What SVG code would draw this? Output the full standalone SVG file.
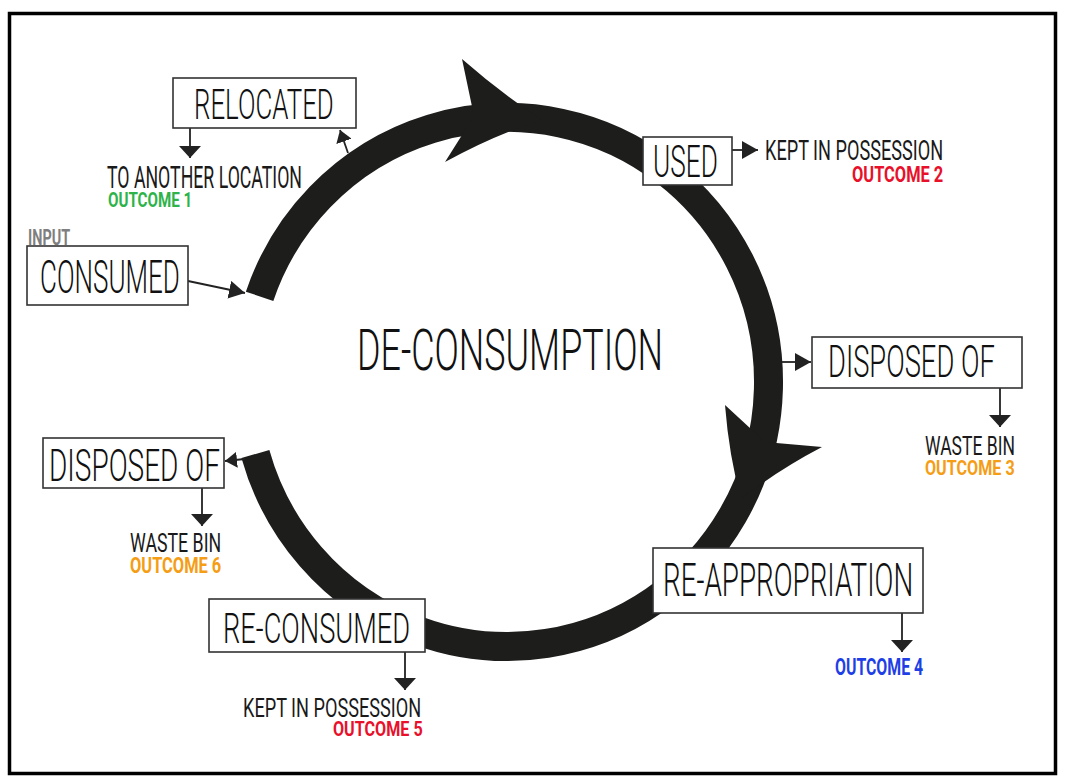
<svg xmlns="http://www.w3.org/2000/svg" width="1065" height="783" viewBox="0 0 1065 783">
<defs>
<style>
.box{fill:#fff;stroke:#333;stroke-width:1.6}
.lbl{font-family:Roboto,"Liberation Sans",sans-serif;font-weight:300;fill:#111}
.sub{font-family:Roboto,"Liberation Sans",sans-serif;font-weight:400;fill:#1a1a1a}
.out{font-family:Roboto,"Liberation Sans",sans-serif;font-weight:700}
.con{stroke:#222;stroke-width:1.8;fill:none}
.band{fill:none;stroke:#1d1d1b;stroke-width:29}
.head{fill:#1d1d1b}
</style>
<marker id="down" viewBox="0 0 12 22" refX="12" refY="11" markerWidth="12" markerHeight="22" markerUnits="userSpaceOnUse" orient="auto"><path d="M0,0 L12,11 L0,22 z" fill="#222"/></marker>
<marker id="side" viewBox="0 0 16 18" refX="16" refY="9" markerWidth="16" markerHeight="18" markerUnits="userSpaceOnUse" orient="auto"><path d="M0,0 L16,9 L0,18 z" fill="#222"/></marker>
<marker id="small" viewBox="0 0 12 16" refX="12" refY="8" markerWidth="12" markerHeight="16" markerUnits="userSpaceOnUse" orient="auto"><path d="M0,0 L12,8 L0,16 z" fill="#222"/></marker>
</defs>
<rect x="0" y="0" width="1065" height="783" fill="#fff"/>
<rect x="9.5" y="13.5" width="1046" height="760" fill="none" stroke="#000" stroke-width="3.5"/>

<g id="cycle">
<path class="band" d="M259.6,296.3 A261.5,264.5 0 1 1 255.4,454"/>
<path class="head" d="M462,59 Q502,94 542,120 Q496,134 445,162 L474,116 Z"/>
<path class="head" d="M725,405 Q729,456 741,499 Q778,470 822,447 L765,442 Z"/>
</g>

<g id="connectors">
<path class="con" d="M190,128 L190,158" marker-end="url(#down)"/>
<path class="con" d="M348,153 L340,130" marker-end="url(#small)"/>
<path class="con" d="M188,281 L245,293" marker-end="url(#side)"/>
<path class="con" d="M732,150 L758,150" marker-end="url(#side)"/>
<path class="con" d="M782,362 L811,362" marker-end="url(#side)"/>
<path class="con" d="M1000,388 L1000,427" marker-end="url(#down)"/>
<path class="con" d="M902,613 L902,652" marker-end="url(#down)"/>
<path class="con" d="M405,652 L405,690" marker-end="url(#down)"/>
<path class="con" d="M245,459 L225,461" marker-end="url(#small)"/>
<path class="con" d="M202,488 L202,526" marker-end="url(#down)"/>
</g>

<g id="center">
<text class="lbl" transform="translate(357,370) scale(0.6,1)" font-size="58" textLength="510" lengthAdjust="spacingAndGlyphs">DE-CONSUMPTION</text>
</g>

<g id="relocated">
<rect class="box" x="173" y="78" width="183" height="50"/>
<text class="lbl" transform="translate(194,119) scale(0.6,1)" font-size="42" textLength="233" lengthAdjust="spacingAndGlyphs">RELOCATED</text>
</g>
<g id="outcome1">
<text class="sub" transform="translate(107,188) scale(0.6,1)" font-size="31" textLength="325" lengthAdjust="spacingAndGlyphs">TO ANOTHER LOCATION</text>
<text class="out" transform="translate(108,207) scale(0.78,1)" font-size="20" fill="#2db34a" textLength="108" lengthAdjust="spacingAndGlyphs">OUTCOME 1</text>
</g>

<g id="consumed">
<text class="out" transform="translate(28,245) scale(0.78,1)" font-size="22" fill="#7f7f7f" textLength="54" lengthAdjust="spacingAndGlyphs">INPUT</text>
<rect class="box" x="27" y="246" width="161" height="59"/>
<text class="lbl" transform="translate(40,293) scale(0.6,1)" font-size="46" textLength="233" lengthAdjust="spacingAndGlyphs">CONSUMED</text>
</g>

<g id="used">
<rect class="box" x="643" y="137" width="89" height="48"/>
<text class="lbl" transform="translate(653,177) scale(0.6,1)" font-size="45" textLength="108" lengthAdjust="spacingAndGlyphs">USED</text>
</g>
<g id="outcome2">
<text class="sub" transform="translate(765,160) scale(0.6,1)" font-size="28" textLength="297" lengthAdjust="spacingAndGlyphs">KEPT IN POSSESSION</text>
<text class="out" transform="translate(852,182) scale(0.78,1)" font-size="22" fill="#e8102a" textLength="117" lengthAdjust="spacingAndGlyphs">OUTCOME 2</text>
</g>

<g id="disposed-right">
<rect class="box" x="812" y="337" width="210" height="51"/>
<text class="lbl" transform="translate(828,377) scale(0.6,1)" font-size="44" textLength="278" lengthAdjust="spacingAndGlyphs">DISPOSED OF</text>
</g>
<g id="outcome3">
<text class="sub" transform="translate(925,455) scale(0.6,1)" font-size="25" textLength="150" lengthAdjust="spacingAndGlyphs">WASTE BIN</text>
<text class="out" transform="translate(925,475) scale(0.78,1)" font-size="21" fill="#f59d14" textLength="115" lengthAdjust="spacingAndGlyphs">OUTCOME 3</text>
</g>

<g id="reappropriation">
<rect class="box" x="653" y="548" width="270" height="65"/>
<text class="lbl" transform="translate(663,596) scale(0.6,1)" font-size="46" textLength="417" lengthAdjust="spacingAndGlyphs">RE-APPROPRIATION</text>
</g>
<g id="outcome4">
<text class="out" transform="translate(835,675) scale(0.78,1)" font-size="23" fill="#1f3fe6" textLength="113" lengthAdjust="spacingAndGlyphs">OUTCOME 4</text>
</g>

<g id="reconsumed">
<rect class="box" x="209" y="599" width="216" height="53"/>
<text class="lbl" transform="translate(223,643) scale(0.6,1)" font-size="42" textLength="312" lengthAdjust="spacingAndGlyphs">RE-CONSUMED</text>
</g>
<g id="outcome5">
<text class="sub" transform="translate(243,717) scale(0.6,1)" font-size="26" textLength="297" lengthAdjust="spacingAndGlyphs">KEPT IN POSSESSION</text>
<text class="out" transform="translate(333,736) scale(0.78,1)" font-size="21" fill="#e8102a" textLength="115" lengthAdjust="spacingAndGlyphs">OUTCOME 5</text>
</g>

<g id="disposed-left">
<rect class="box" x="43" y="438" width="181" height="50"/>
<text class="lbl" transform="translate(49,481) scale(0.6,1)" font-size="44" textLength="285" lengthAdjust="spacingAndGlyphs">DISPOSED OF</text>
</g>
<g id="outcome6">
<text class="sub" transform="translate(130,552) scale(0.6,1)" font-size="26" textLength="152" lengthAdjust="spacingAndGlyphs">WASTE BIN</text>
<text class="out" transform="translate(130,573) scale(0.78,1)" font-size="22" fill="#f59d14" textLength="117" lengthAdjust="spacingAndGlyphs">OUTCOME 6</text>
</g>
</svg>
